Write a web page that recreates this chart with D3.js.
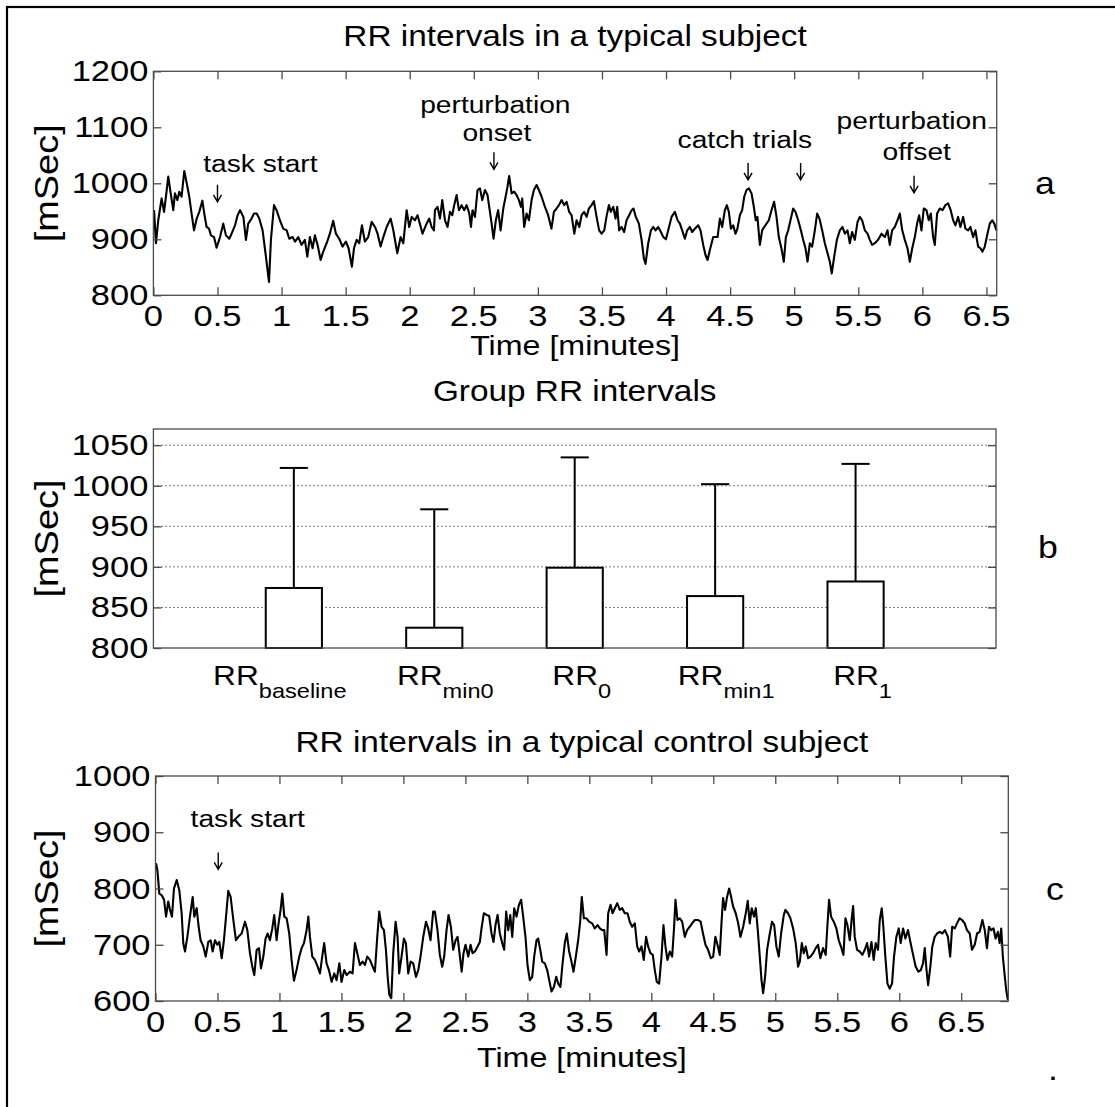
<!DOCTYPE html>
<html>
<head>
<meta charset="utf-8">
<script src="https://cdn.jsdelivr.net/npm/d3@7"></script>
<style>
  body { margin: 0; background: #fff; }
  svg text { font-family: "Liberation Sans", Arial, Helvetica, sans-serif; fill: #000; }
</style>
</head>
<body>
<svg id="fig" width="1115" height="1107"></svg>
<script>
// ---- data ----
// panel a: [time in minutes, RR in msec]
const subjectRR = [
  [0.005,952],[0.02,893],[0.038,934],[0.064,973],[0.083,949],[0.098,976],[0.116,1012],[0.135,982],[0.155,952],[0.168,982],
  [0.187,970],[0.202,985],[0.22,976],[0.241,1022],[0.26,1000],[0.28,976],[0.298,946],[0.317,916],[0.338,937],[0.358,949],
  [0.382,969],[0.397,946],[0.415,922],[0.434,919],[0.449,907],[0.473,904],[0.493,885],[0.52,904],[0.545,928],[0.566,907],
  [0.592,901],[0.61,910],[0.637,925],[0.657,943],[0.676,952],[0.702,940],[0.722,899],[0.74,928],[0.766,937],[0.785,946],
  [0.806,946],[0.826,937],[0.852,916],[0.878,869],[0.902,824],[0.917,899],[0.941,961],[0.961,952],[0.987,934],[1.013,919],
  [1.04,916],[1.06,901],[1.086,904],[1.105,896],[1.13,904],[1.156,890],[1.182,899],[1.201,869],[1.221,904],[1.242,884],
  [1.26,907],[1.281,890],[1.305,863],[1.325,878],[1.352,893],[1.377,910],[1.403,933],[1.424,910],[1.45,901],[1.476,887],
  [1.502,896],[1.523,884],[1.549,851],[1.565,884],[1.586,899],[1.606,893],[1.627,925],[1.65,896],[1.676,904],[1.703,931],
  [1.729,922],[1.749,910],[1.773,887],[1.794,904],[1.82,922],[1.851,937],[1.872,916],[1.903,875],[1.929,904],[1.95,893],
  [1.976,952],[1.996,922],[2.015,940],[2.041,934],[2.061,943],[2.079,928],[2.1,910],[2.126,925],[2.152,937],[2.171,922],
  [2.189,916],[2.197,952],[2.217,958],[2.236,937],[2.254,970],[2.275,934],[2.295,922],[2.314,949],[2.332,943],[2.347,961],
  [2.366,979],[2.384,952],[2.405,961],[2.425,952],[2.444,961],[2.465,946],[2.478,922],[2.49,952],[2.509,940],[2.529,988],
  [2.548,991],[2.566,970],[2.587,988],[2.607,979],[2.626,949],[2.639,928],[2.654,901],[2.672,934],[2.69,952],[2.709,916],
  [2.73,955],[2.748,976],[2.763,994],[2.776,1013],[2.795,982],[2.815,985],[2.834,979],[2.852,970],[2.868,958],[2.878,973],
  [2.893,922],[2.912,946],[2.93,934],[2.951,970],[2.969,988],[2.99,997],[3.008,988],[3.029,976],[3.055,958],[3.08,943],
  [3.106,919],[3.125,949],[3.146,955],[3.164,961],[3.185,970],[3.205,961],[3.224,967],[3.244,949],[3.263,943],[3.284,910],
  [3.302,934],[3.323,922],[3.341,943],[3.361,949],[3.38,940],[3.398,955],[3.419,961],[3.437,968],[3.458,940],[3.478,916],
  [3.497,910],[3.518,916],[3.535,940],[3.554,961],[3.569,949],[3.588,958],[3.606,937],[3.619,958],[3.634,916],[3.653,922],
  [3.673,913],[3.692,934],[3.712,943],[3.731,952],[3.746,955],[3.764,940],[3.788,928],[3.809,899],[3.827,866],[3.84,856],
  [3.861,893],[3.882,916],[3.9,922],[3.918,916],[3.939,922],[3.96,913],[3.978,904],[3.999,900],[4.017,916],[4.043,940],
  [4.069,949],[4.09,934],[4.108,928],[4.126,916],[4.147,901],[4.165,916],[4.186,922],[4.204,913],[4.225,919],[4.251,925],
  [4.269,916],[4.29,890],[4.308,872],[4.324,863],[4.342,881],[4.368,904],[4.402,904],[4.42,937],[4.438,922],[4.459,952],
  [4.474,961],[4.49,949],[4.506,919],[4.524,925],[4.542,910],[4.557,919],[4.576,943],[4.594,952],[4.61,976],[4.628,988],
  [4.646,991],[4.667,982],[4.685,958],[4.7,934],[4.713,940],[4.732,890],[4.75,916],[4.766,922],[4.784,928],[4.802,934],
  [4.823,952],[4.843,967],[4.862,940],[4.88,904],[4.9,884],[4.919,860],[4.935,904],[4.953,916],[4.974,937],[4.992,955],
  [5.01,949],[5.031,934],[5.052,916],[5.07,899],[5.088,884],[5.104,860],[5.122,893],[5.14,887],[5.161,916],[5.179,946],
  [5.197,937],[5.218,916],[5.239,893],[5.26,875],[5.278,860],[5.293,839],[5.312,869],[5.333,899],[5.356,916],[5.377,922],
  [5.395,910],[5.416,916],[5.434,893],[5.452,913],[5.473,899],[5.494,931],[5.512,940],[5.53,934],[5.551,916],[5.572,910],
  [5.59,899],[5.608,890],[5.629,893],[5.655,899],[5.681,910],[5.707,904],[5.728,916],[5.746,890],[5.764,916],[5.785,922],
  [5.806,934],[5.824,946],[5.843,916],[5.863,899],[5.884,884],[5.902,860],[5.921,884],[5.941,904],[5.959,928],[5.975,943],
  [5.993,916],[6.011,955],[6.032,952],[6.05,934],[6.066,946],[6.084,904],[6.097,890],[6.115,946],[6.136,955],[6.157,952],
  [6.18,961],[6.201,964],[6.221,952],[6.24,934],[6.258,925],[6.279,940],[6.297,922],[6.318,940],[6.336,919],[6.357,916],
  [6.375,922],[6.396,904],[6.414,916],[6.435,887],[6.453,884],[6.469,878],[6.487,887],[6.508,910],[6.526,928],[6.545,934],
  [6.561,928],[6.578,916]
];

// panel c: [time in minutes, RR in msec]
const controlRR = [
  [0.004,845],[0.015,833],[0.031,791],[0.05,788],[0.069,780],[0.085,750],[0.103,777],[0.117,762],[0.133,750],[0.149,800],
  [0.171,815],[0.192,797],[0.211,756],[0.224,703],[0.238,688],[0.257,714],[0.278,750],[0.3,785],[0.313,750],[0.332,765],
  [0.348,732],[0.364,708],[0.386,697],[0.405,679],[0.426,705],[0.445,708],[0.461,688],[0.48,708],[0.499,700],[0.515,705],
  [0.534,676],[0.552,708],[0.569,750],[0.587,796],[0.606,785],[0.628,744],[0.649,708],[0.668,714],[0.695,720],[0.722,741],
  [0.741,726],[0.762,685],[0.781,661],[0.797,646],[0.816,691],[0.835,694],[0.851,658],[0.87,679],[0.888,711],[0.905,720],
  [0.923,708],[0.942,729],[0.958,753],[0.977,708],[0.993,738],[1.009,762],[1.023,791],[1.039,750],[1.058,747],[1.079,720],
  [1.098,673],[1.117,636],[1.138,655],[1.16,679],[1.179,694],[1.198,703],[1.219,726],[1.233,750],[1.246,714],[1.265,679],
  [1.286,673],[1.308,661],[1.327,649],[1.345,679],[1.361,703],[1.38,667],[1.399,655],[1.421,634],[1.442,649],[1.461,637],
  [1.483,667],[1.501,634],[1.523,655],[1.542,646],[1.568,652],[1.59,649],[1.609,703],[1.628,685],[1.649,664],[1.671,670],
  [1.69,664],[1.708,679],[1.73,673],[1.752,661],[1.77,652],[1.789,714],[1.805,759],[1.824,732],[1.843,726],[1.859,691],
  [1.873,643],[1.886,611],[1.902,605],[1.918,685],[1.937,741],[1.953,714],[1.966,649],[1.985,679],[2.004,711],[2.02,703],
  [2.039,649],[2.058,670],[2.079,667],[2.101,643],[2.12,655],[2.138,679],[2.16,714],[2.182,741],[2.2,729],[2.219,708],
  [2.24,759],[2.254,759],[2.275,726],[2.294,682],[2.313,661],[2.329,679],[2.348,726],[2.364,753],[2.383,732],[2.402,691],
  [2.421,708],[2.437,714],[2.456,679],[2.47,652],[2.485,685],[2.501,700],[2.523,679],[2.542,700],[2.558,685],[2.577,688],
  [2.598,697],[2.617,705],[2.63,729],[2.649,756],[2.671,753],[2.692,751],[2.711,720],[2.727,705],[2.743,735],[2.76,753],
  [2.778,720],[2.797,703],[2.813,691],[2.829,759],[2.846,726],[2.862,753],[2.878,714],[2.894,765],[2.913,750],[2.932,771],
  [2.95,780],[2.966,750],[2.985,714],[3.001,664],[3.02,637],[3.039,643],[3.055,679],[3.074,708],[3.087,711],[3.104,691],
  [3.12,670],[3.141,667],[3.16,655],[3.179,634],[3.195,617],[3.214,625],[3.233,643],[3.249,631],[3.267,625],[3.284,667],
  [3.302,703],[3.318,720],[3.337,688],[3.356,670],[3.372,652],[3.391,679],[3.41,708],[3.426,741],[3.439,785],[3.456,747],
  [3.477,747],[3.498,741],[3.523,738],[3.544,729],[3.566,735],[3.585,729],[3.604,726],[3.62,726],[3.639,682],[3.652,756],
  [3.671,771],[3.687,756],[3.706,765],[3.725,774],[3.746,762],[3.765,765],[3.786,756],[3.808,756],[3.826,741],[3.845,732],
  [3.867,738],[3.886,697],[3.902,688],[3.921,697],[3.939,673],[3.958,714],[3.974,697],[3.993,685],[4.012,682],[4.028,655],
  [4.044,634],[4.063,631],[4.082,679],[4.098,735],[4.114,697],[4.13,673],[4.149,688],[4.168,679],[4.184,732],[4.195,780],
  [4.211,744],[4.23,747],[4.249,741],[4.27,714],[4.289,726],[4.31,732],[4.329,738],[4.351,744],[4.378,744],[4.398,741],
  [4.417,720],[4.437,700],[4.458,691],[4.48,676],[4.499,679],[4.517,714],[4.534,700],[4.552,682],[4.566,738],[4.579,783],
  [4.595,762],[4.611,785],[4.628,800],[4.641,788],[4.66,768],[4.681,756],[4.701,738],[4.719,714],[4.741,732],[4.762,756],
  [4.778,778],[4.794,738],[4.81,765],[4.829,750],[4.843,765],[4.859,726],[4.875,679],[4.889,637],[4.902,614],[4.918,643],
  [4.934,691],[4.956,720],[4.974,741],[4.991,735],[5.009,697],[5.028,679],[5.047,720],[5.069,753],[5.082,762],[5.103,756],
  [5.122,747],[5.144,729],[5.165,703],[5.184,661],[5.198,670],[5.214,703],[5.23,685],[5.246,697],[5.265,676],[5.284,679],
  [5.305,685],[5.327,694],[5.345,700],[5.364,676],[5.386,694],[5.407,682],[5.42,732],[5.434,780],[5.45,750],[5.472,741],
  [5.493,729],[5.512,708],[5.534,694],[5.55,682],[5.566,747],[5.582,735],[5.601,708],[5.617,747],[5.628,769],[5.641,714],
  [5.66,691],[5.681,688],[5.703,682],[5.722,691],[5.741,703],[5.757,679],[5.776,705],[5.794,673],[5.81,703],[5.829,691],
  [5.843,744],[5.859,765],[5.872,732],[5.888,679],[5.905,631],[5.923,622],[5.942,631],[5.958,679],[5.977,714],[5.996,729],
  [6.012,703],[6.031,729],[6.05,711],[6.071,726],[6.09,705],[6.112,682],[6.133,661],[6.155,652],[6.174,655],[6.192,667],
  [6.206,694],[6.219,658],[6.233,628],[6.251,661],[6.267,697],[6.286,714],[6.305,720],[6.327,723],[6.348,720],[6.369,726],
  [6.393,714],[6.411,679],[6.427,732],[6.448,729],[6.466,738],[6.487,747],[6.507,744],[6.528,738],[6.547,726],[6.569,720],
  [6.587,691],[6.609,700],[6.628,720],[6.649,723],[6.671,744],[6.69,726],[6.708,694],[6.724,732],[6.742,726],[6.761,729],
  [6.777,711],[6.796,723],[6.81,703],[6.823,729],[6.836,679],[6.852,643],[6.863,620],[6.876,602]
];

// panel b: group means and upper error
const groupSubs = ["baseline", "min0", "0", "min1", "1"];
const groupMean = [874, 825, 899, 864, 882];
const groupErr  = [148, 146, 136, 138, 145];

// ticks
const timeTicksA = [0, 0.5, 1, 1.5, 2, 2.5, 3, 3.5, 4, 4.5, 5, 5.5, 6, 6.5];
const timeTicksC = [0, 0.5, 1, 1.5, 2, 2.5, 3, 3.5, 4, 4.5, 5, 5.5, 6, 6.5];
const rrTicksA = [800, 900, 1000, 1100, 1200];
const rrTicksB = [800, 850, 900, 950, 1000, 1050];
const rrTicksC = [600, 700, 800, 900, 1000];

// annotations: [text, time, msec]
const notesA = [
  ["task start", 0.835, 1021],
  ["perturbation", 2.668, 1125],
  ["onset", 2.68, 1076],
  ["catch trials", 4.615, 1063],
  ["perturbation", 5.917, 1097],
  ["offset", 5.956, 1041]
];
const arrowsA = [[0.5, 967], [2.657, 1025], [4.64, 1006], [5.05, 1006], [5.935, 983]];
const notesC = [["task start", 0.744, 910]];
const arrowsC = [[0.506, 834]];

// ---- drawing ----
const SX = 1.15;        // the figure's lettering is a little wide
const AX = "#4a4a4a";   // axes colour
const svg = d3.select("#fig");

svg.append("rect").attr("width", 1115).attr("height", 1107).attr("fill", "#fff");
// outer frame (only top and left edges fall inside the picture)
svg.append("rect")
  .attr("x", 7).attr("y", 7).attr("width", 1130).attr("height", 1120)
  .attr("fill", "none").attr("stroke", "#000").attr("stroke-width", 2.2);

function put(g, x, y, str, size, anchor) {
  return g.append("text")
    .attr("transform", "translate(" + x + "," + y + ") scale(" + SX + ",1)")
    .attr("text-anchor", anchor || "middle")
    .attr("font-size", size)
    .text(str);
}

function yLabel(g, x, y, str, size) {
  g.append("text")
    .attr("transform", "translate(" + x + "," + y + ") rotate(-90) scale(" + SX + ",1)")
    .attr("text-anchor", "middle")
    .attr("font-size", size)
    .text(str);
}

function box(g, x, y) {
  const [x0, x1] = x.range();
  const [y0, y1] = y.range();
  g.append("rect")
    .attr("x", x0).attr("y", y1).attr("width", x1 - x0).attr("height", y0 - y1)
    .attr("fill", "none").attr("stroke", AX).attr("stroke-width", 1.3);
}

function ticks(g, axis, tx, ty) {
  const a = g.append("g").attr("transform", "translate(" + tx + "," + ty + ")").call(axis);
  a.select(".domain").remove();
  a.selectAll("line").attr("stroke", AX).attr("stroke-width", 1.3);
}

function arrow(g, px, py) {
  g.append("path")
    .attr("d", "M" + px + "," + (py - 17) + "V" + py + "M" + (px - 4) + "," + (py - 7) +
               "L" + px + "," + py + "L" + (px + 4) + "," + (py - 7))
    .attr("fill", "none").attr("stroke", "#000").attr("stroke-width", 1.4);
}

function timePanel(o) {
  const g = svg.append("g");
  const x = d3.scaleLinear().domain(o.xDomain).range([o.left, o.right]);
  const y = d3.scaleLinear().domain(o.yDomain).range([o.bottom, o.top]);

  g.append("path")
    .datum(o.data)
    .attr("fill", "none").attr("stroke", "#000").attr("stroke-width", 2.1)
    .attr("stroke-linejoin", "round")
    .attr("d", d3.line().x(d => x(d[0])).y(d => y(d[1])));

  box(g, x, y);
  ticks(g, d3.axisBottom(x).tickValues(o.xTicks).tickSize(-8).tickFormat(""), 0, o.bottom);
  ticks(g, d3.axisTop(x).tickValues(o.xTicks).tickSize(-8).tickFormat(""), 0, o.top);
  ticks(g, d3.axisLeft(y).tickValues(o.yTicks).tickSize(-8).tickFormat(""), o.left, 0);
  ticks(g, d3.axisRight(y).tickValues(o.yTicks).tickSize(-8).tickFormat(""), o.right, 0);

  o.yTicks.forEach(v => put(g, o.left - 5, y(v) + 10, String(v), 30, "end"));
  o.xTicks.forEach(t => put(g, x(t), o.bottom + 31, String(t), 30, "middle"));

  put(g, (o.left + o.right) / 2, o.titleY, o.title, 29, "middle");
  put(g, (o.left + o.right) / 2, o.xLabelY, "Time [minutes]", 28, "middle");
  yLabel(g, 58, (o.top + o.bottom) / 2, "[mSec]", 33);
  put(g, o.letterX, (o.top + o.bottom) / 2 + 11, o.letter, 31, "middle");

  o.notes.forEach(n => put(g, x(n[1]), y(n[2]), n[0], 24.5, "middle"));
  o.arrows.forEach(a => arrow(g, x(a[0]), y(a[1])));
  return g;
}

timePanel({
  left: 153.4, right: 996.7, top: 71.3, bottom: 295.3,
  xDomain: [0, 6.58], yDomain: [800, 1200],
  data: subjectRR, xTicks: timeTicksA, yTicks: rrTicksA,
  title: "RR intervals in a typical subject", titleY: 46, xLabelY: 355,
  letter: "a", letterX: 1045,
  notes: notesA, arrows: arrowsA
});

timePanel({
  left: 155.5, right: 1008.3, top: 776, bottom: 1001,
  xDomain: [0, 6.88], yDomain: [600, 1000],
  data: controlRR, xTicks: timeTicksC, yTicks: rrTicksC,
  title: "RR intervals in a typical control subject", titleY: 752, xLabelY: 1067,
  letter: "c", letterX: 1055,
  notes: notesC, arrows: arrowsC
});

// panel b: bar chart with upper error bars
(function () {
  const g = svg.append("g");
  const left = 153.4, right = 996, top = 429, bottom = 648;
  const x = d3.scaleLinear().domain([0, 6]).range([left, right]);
  const y = d3.scaleLinear().domain([800, 1070]).range([bottom, top]);
  const labelShift = [-14, 11, 7, 11, 7];

  rrTicksB.slice(1).forEach(v => {
    g.append("line")
      .attr("x1", left).attr("x2", right).attr("y1", y(v)).attr("y2", y(v))
      .attr("stroke", "#333").attr("stroke-width", 1).attr("stroke-dasharray", "1.3,2.7");
  });

  groupMean.forEach((m, i) => {
    const c = i + 1;
    g.append("line")
      .attr("x1", x(c)).attr("x2", x(c)).attr("y1", y(m)).attr("y2", y(m + groupErr[i]))
      .attr("stroke", "#000").attr("stroke-width", 2);
    g.append("line")
      .attr("x1", x(c - 0.1)).attr("x2", x(c + 0.1))
      .attr("y1", y(m + groupErr[i])).attr("y2", y(m + groupErr[i]))
      .attr("stroke", "#000").attr("stroke-width", 2);
    g.append("rect")
      .attr("x", x(c - 0.2)).attr("width", x(0.4) - x(0))
      .attr("y", y(m)).attr("height", y(800) - y(m))
      .attr("fill", "#fff").attr("stroke", "#000").attr("stroke-width", 2);
  });

  box(g, x, y);
  ticks(g, d3.axisLeft(y).tickValues(rrTicksB).tickSize(-8).tickFormat(""), left, 0);
  ticks(g, d3.axisRight(y).tickValues(rrTicksB).tickSize(-8).tickFormat(""), right, 0);

  rrTicksB.forEach(v => put(g, left - 5, y(v) + 10, String(v), 30, "end"));

  groupSubs.forEach((s, i) => {
    const t = put(g, x(i + 1) + labelShift[i], 685, "RR", 27.5, "middle");
    t.append("tspan").attr("dy", 13).attr("font-size", 20.5).text(s);
  });

  put(g, (left + right) / 2, 401, "Group RR intervals", 29, "middle");
  yLabel(g, 58, (top + bottom) / 2, "[mSec]", 33);
  put(g, 1048, 558, "b", 31, "middle");
})();

put(svg, 1053, 1080, ".", 31, "middle");
</script>
</body>
</html>
